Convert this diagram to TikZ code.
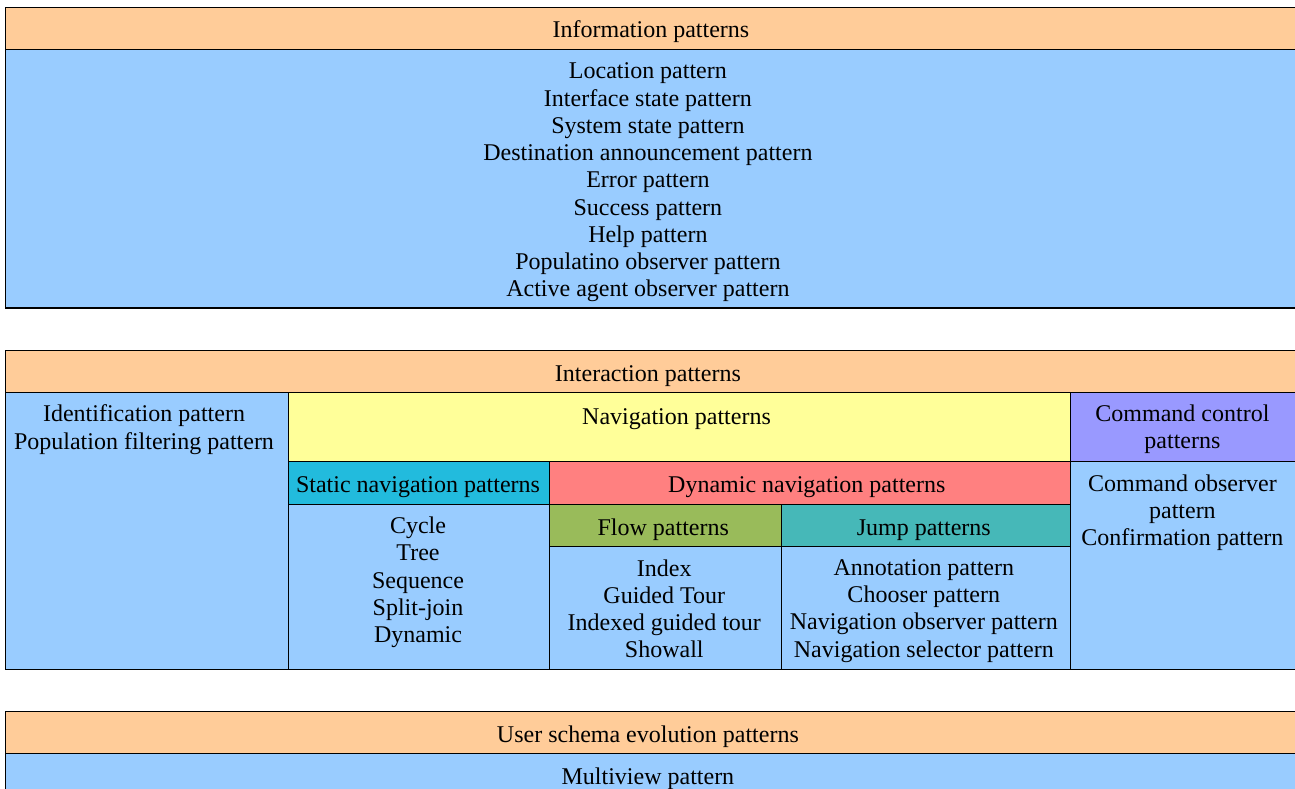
\documentclass[tikz,border=0pt]{standalone}
\usepackage{fontspec}
\setmainfont{Liberation Serif}
\definecolor{hdr}{HTML}{FFCC99}
\definecolor{bodyblue}{HTML}{99CCFF}
\definecolor{navyel}{HTML}{FFFF99}
\definecolor{cmdpur}{HTML}{9999FF}
\definecolor{statcyan}{HTML}{22BBDD}
\definecolor{dynred}{HTML}{FF8080}
\definecolor{flowgreen}{HTML}{99BB5A}
\definecolor{jumpteal}{HTML}{46B8B8}
\tikzset{
  cell/.style={draw=black, line width=1.1pt, anchor=north west, inner sep=0pt, outer sep=0pt},
  txt/.style={font=\fontsize{24}{27.25}\selectfont, align=center, anchor=north, inner sep=0pt, execute at begin node=\strut}
}
\begin{document}
\begin{tikzpicture}[x=1pt, y=-1pt]
\useasboundingbox (0,0) rectangle (1295,789);
\clip (0,0) rectangle (1295,789);
% information block
\node[cell, fill=hdr, minimum width=1291.2pt, minimum height=42pt] (infoH) at (5.3,7.3) {};
\node[cell, fill=bodyblue, minimum width=1291.2pt, minimum height=258.7pt] (infoB) at (5.3,49.3) {};
% interaction block
\node[cell, fill=hdr, minimum width=1291.2pt, minimum height=42pt] (interH) at (5.3,350.3) {};
\node[cell, fill=bodyblue, minimum width=283.4pt, minimum height=277pt] (left) at (5.3,392.3) {};
\node[cell, fill=navyel, minimum width=781.6pt, minimum height=69.4pt] (nav) at (288.7,392.3) {};
\node[cell, fill=cmdpur, minimum width=226.2pt, minimum height=69.4pt] (cmdH) at (1070.3,392.3) {};
\node[cell, fill=statcyan, minimum width=260.6pt, minimum height=42.6pt] (stat) at (288.7,461.7) {};
\node[cell, fill=dynred, minimum width=521pt, minimum height=42.6pt] (dyn) at (549.3,461.7) {};
\node[cell, fill=flowgreen, minimum width=232pt, minimum height=42.4pt] (flow) at (549.3,504.3) {};
\node[cell, fill=jumpteal, minimum width=289pt, minimum height=42.4pt] (jump) at (781.3,504.3) {};
\node[cell, fill=bodyblue, minimum width=260.6pt, minimum height=165pt] (statB) at (288.7,504.3) {};
\node[cell, fill=bodyblue, minimum width=232pt, minimum height=122.6pt] (flowB) at (549.3,546.7) {};
\node[cell, fill=bodyblue, minimum width=289pt, minimum height=122.6pt] (jumpB) at (781.3,546.7) {};
\node[cell, fill=bodyblue, minimum width=226.2pt, minimum height=207.6pt] (cmdB) at (1070.3,461.7) {};
% user schema evolution block
\node[cell, fill=hdr, minimum width=1291.2pt, minimum height=42pt] (userH) at (5.3,711.3) {};
\node[cell, fill=bodyblue, minimum width=1291.2pt, minimum height=60pt] (userB) at (5.3,753.3) {};
% texts
\node[txt] (t-infoH) at ([yshift=-11pt]infoH.north) {Information patterns};
\node[txt] (t-infoB) at ([xshift=-3pt,yshift=-13.5pt]infoB.north) {Location pattern\\Interface state pattern\\System state pattern\\Destination announcement pattern\\Error pattern\\Success pattern\\Help pattern\\Populatino observer pattern\\Active agent observer pattern};
\node[txt] (t-interH) at ([xshift=-3pt,yshift=-12pt]interH.north) {Interaction patterns};
\node[txt] (t-left) at ([xshift=-3pt,yshift=-12.5pt]left.north) {Identification pattern\\Population filtering pattern};
\node[txt] (t-nav) at ([xshift=-3pt,yshift=-12.5pt]nav.north) {Navigation patterns};
\node[txt] (t-cmdH) at ([xshift=-1pt,yshift=-12.5pt]cmdH.north) {Command control\\patterns};
\node[txt] (t-stat) at ([xshift=-1pt,yshift=-12pt]stat.north) {Static navigation patterns};
\node[txt] (t-dyn) at ([xshift=-3pt,yshift=-12pt]dyn.north) {Dynamic navigation patterns};
\node[txt] (t-flow) at ([xshift=-2pt,yshift=-11.5pt]flow.north) {Flow patterns};
\node[txt] (t-jump) at ([xshift=-2pt,yshift=-11.5pt]jump.north) {Jump patterns};
\node[txt] (t-statB) at ([xshift=-1pt,yshift=-12.5pt]statB.north) {Cycle\\Tree\\Sequence\\Split-join\\Dynamic};
\node[txt] (t-flowB) at ([xshift=-1pt,yshift=-12.5pt]flowB.north) {Index\\Guided Tour\\Indexed guided tour\\Showall};
\node[txt] (t-jumpB) at ([xshift=-2pt,yshift=-12.5pt]jumpB.north) {Annotation pattern\\Chooser pattern\\Navigation observer pattern\\Navigation selector pattern};
\node[txt] (t-cmdB) at ([xshift=-1pt,yshift=-12.5pt]cmdB.north) {Command observer\\pattern\\Confirmation pattern};
\node[txt] (t-userH) at ([xshift=-3pt,yshift=-11.5pt]userH.north) {User schema evolution patterns};
\node[txt] (t-userB) at ([xshift=-3pt,yshift=-11.5pt]userB.north) {Multiview pattern};
\end{tikzpicture}
\end{document}
